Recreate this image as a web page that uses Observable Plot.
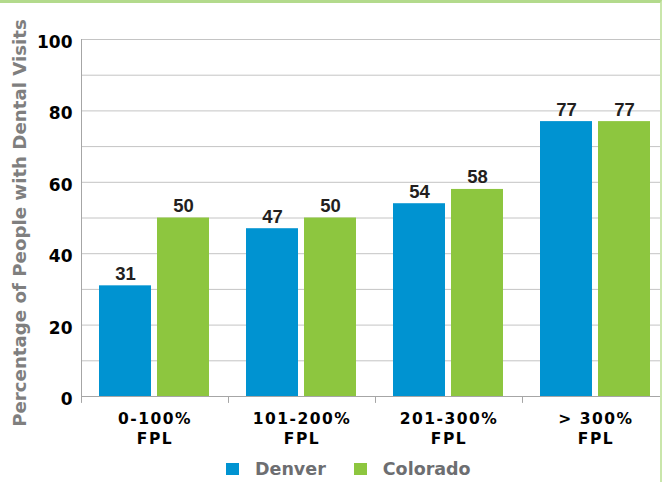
<!DOCTYPE html>
<html>
<head>
<meta charset="utf-8">
<script src="https://cdn.jsdelivr.net/npm/d3@7"></script>
<script src="https://cdn.jsdelivr.net/npm/@observablehq/plot@0.6"></script>
<style>
  html, body { margin: 0; padding: 0; background: #fff; overflow: hidden; }
  #wrap {
    width: 662px; height: 482px; box-sizing: border-box; position: relative; overflow: hidden;
    border-top: 3px solid #b3da8c; border-right: 2px solid #c9e6ab;
  }
  #wrap svg { display: block; max-width: none !important; }
  .fpl text { letter-spacing: 1.5px; }
  #legend {
    position: absolute; left: 226px; top: 456px; display: flex; align-items: center;
    font: bold 17.5px "DejaVu Sans", sans-serif; color: #6d6e71; line-height: 20px;
  }
  #legend .sw { width: 13px; height: 12px; margin-right: 16px; }
  #legend .item { display: flex; align-items: center; margin-right: 28px; }
</style>
</head>
<body>
<div id="wrap">
  <div id="chart"></div>
  <div id="legend"></div>
</div>
<script>
// Income bands (percent of the federal poverty level)
const groups = ["0-100%\nFPL", "101-200%\nFPL", "201-300%\nFPL", "> 300%\nFPL"];
const series = ["Denver", "Colorado"];
const denver = [31, 47, 54, 77];
const colorado = [50, 50, 58, 77];
const yTicks = [0, 20, 40, 60, 80, 100];
const gridValues = [10, 20, 30, 40, 50, 60, 70, 80, 90, 100];
const colors = ["#0093d1", "#8dc63f"];
const yTitle = "Percentage of People with Dental Visits";

const rows = groups.flatMap((g, i) => [
  {group: g, series: "Denver", value: denver[i]},
  {group: g, series: "Colorado", value: colorado[i]}
]);

const axisGray = "#a6a6a6";

const chart = Plot.plot({
  width: 669,
  height: 450,
  marginLeft: 81,
  marginRight: 0,
  marginTop: 36,
  marginBottom: 57,
  style: {fontFamily: "DejaVu Sans", background: "transparent", maxWidth: "none"},
  fx: {domain: groups, padding: 0, axis: null},
  x: {domain: series, paddingInner: 0.102, paddingOuter: 0.297, axis: null},
  y: {domain: [0, 100], axis: null},
  color: {domain: series, range: colors},
  marks: [
    // grid and baseline repeat in each (touching) facet
    Plot.gridY(gridValues, {stroke: "#c4c4c4", strokeOpacity: 1}),
    Plot.axisY(yTicks, {
      tickSize: 0, tickPadding: 9, dy: 3, label: null,
      fontSize: 17, fontWeight: "bold", color: "#000"
    }),
    Plot.barY(rows, {fx: "group", x: "series", y: "value", fill: "series"}),
    Plot.text(rows, {
      fx: "group", x: "series", y: "value", text: d => String(d.value),
      lineAnchor: "bottom", dy: -6,
      fontFamily: "Liberation Sans", fontWeight: "bold", fontSize: 18.5, fill: "#231f20"
    }),
    Plot.frame({anchor: "left", facet: "super", stroke: axisGray}),
    Plot.ruleY([0], {stroke: axisGray}),
    // short separators below the baseline between income bands
    Plot.vector(groups, {
      fx: d => d, frameAnchor: "bottom-left", length: 6, rotate: 180, anchor: "start",
      stroke: axisGray, strokeWidth: 1,
      shape: {draw(context, l) { context.moveTo(0, 0); context.lineTo(0, -l); }}
    }),
    Plot.text(groups, {
      fx: d => d, text: d => d, frameAnchor: "bottom", lineAnchor: "top",
      dy: 13, lineHeight: 1.3, fontSize: 15.5, fontWeight: "bold", fill: "#000",
      className: "fpl"
    }),
    Plot.text([yTitle], {
      facet: "super", text: d => d, frameAnchor: "left", textAnchor: "middle", rotate: -90,
      dx: -61, dy: 5, fontSize: 18.2, fontWeight: "bold", fill: "#7f7f7f"
    })
  ]
});

document.getElementById("chart").appendChild(chart);

const legend = document.getElementById("legend");
series.forEach((s, i) => {
  const item = document.createElement("div");
  item.className = "item";
  const sw = document.createElement("div");
  sw.className = "sw";
  sw.style.background = colors[i];
  const label = document.createElement("span");
  label.textContent = s;
  item.appendChild(sw);
  item.appendChild(label);
  legend.appendChild(item);
});
</script>
</body>
</html>
